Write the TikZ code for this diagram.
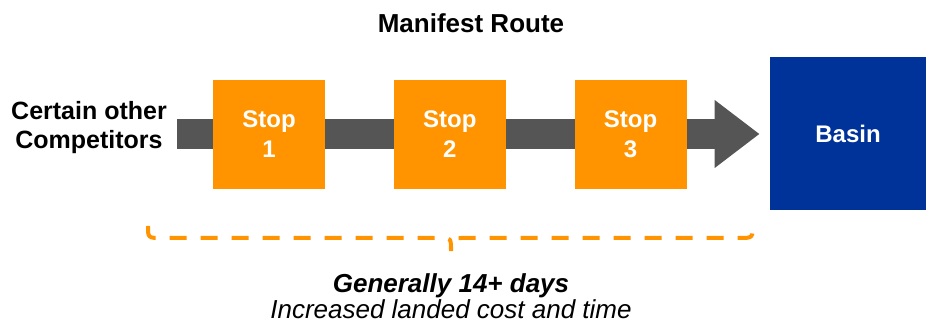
\documentclass[tikz,border=0pt]{standalone}
\usepackage{fontspec}
\setmainfont{Liberation Sans}
\usetikzlibrary{arrows.meta,positioning}
\definecolor{stopcol}{RGB}{255,148,0}
\definecolor{basincol}{RGB}{0,51,153}
\definecolor{routecol}{RGB}{85,85,85}

\begin{document}
\begin{tikzpicture}[
  x=0.5pt, y=-0.5pt,
  font=\fontsize{12}{15}\selectfont\bfseries,
  node distance=34pt,
  stopbox/.style={rectangle,fill=stopcol,text=white,minimum width=56pt,minimum height=54.5pt,inner sep=0pt,align=center},
  basinbox/.style={rectangle,fill=basincol,text=white,minimum width=78pt,minimum height=76.5pt,inner sep=0pt},
]
\useasboundingbox (0,0) rectangle (926,324);
% --- title ---
\node[anchor=base,font=\fontsize{13}{15}\selectfont\bfseries] (title) at (471,33) {Manifest Route};

% --- the route: competitors -> stops -> basin ---
\node[anchor=north,align=center,inner sep=0pt,font=\fontsize{12.5}{14.5}\selectfont\bfseries] (comp) at (89,101) {Certain other\\Competitors};
\coordinate (start) at (177,134);
\node[basinbox] (basin) at (848,134) {Basin};
\draw[routecol,line width=15pt,-{Triangle[length=22.5pt,width=32.5pt]}] (start) -- ([xshift=-5pt]basin.west);
\node[stopbox] (stop1) at (269,134.5) {Stop\\1};
\node[stopbox,right=of stop1] (stop2) {Stop\\2};
\node[stopbox,right=of stop2] (stop3) {Stop\\3};

% --- dashed bracket under the stops ---
\coordinate (bl) at (148,226);
\coordinate (bm) at (451,251);
\coordinate (br) at (753,222);
\draw[stopcol,line width=2pt,dash pattern=on 8.5pt off 7pt]
  (bl) .. controls (148,238) .. (162,238) -- (440,238) .. controls (451,238) .. (bm)
  .. controls (451,238) .. (462,238) -- (740,238) .. controls (753,238) .. (br);

\node[anchor=north,align=center,inner sep=0pt,font=\fontsize{13}{13}\selectfont] (note) at (451,273)
  {\textbf{\textit{Generally 14+ days}}\\\textit{Increased landed cost and time}};
\end{tikzpicture}
\end{document}
